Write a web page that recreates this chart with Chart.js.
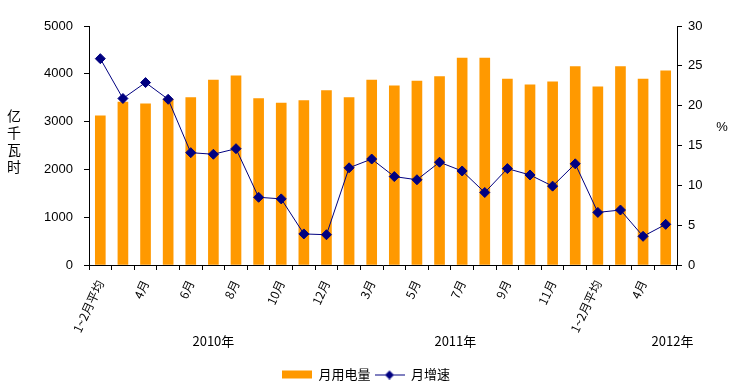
<!DOCTYPE html>
<html>
<head>
<meta charset="utf-8">
<script src="https://cdn.jsdelivr.net/npm/chart.js@4"></script>
<style>
  html, body { margin: 0; padding: 0; background: #fff; }
  #wrap { width: 732px; height: 391px; }
</style>
</head>
<body>
<div id="wrap"><canvas id="chart"></canvas></div>
<script>
// 数据
const categories = [
  '1~2月平均', '3月', '4月', '5月', '6月', '7月', '8月', '9月', '10月', '11月', '12月',
  '1~2月平均', '3月', '4月', '5月', '6月', '7月', '8月', '9月', '10月', '11月', '12月',
  '1~2月平均', '3月', '4月', '5月'
];
const usage = [
  3120, 3410, 3370, 3470, 3500, 3870, 3960, 3480, 3390, 3440, 3650,
  3500, 3870, 3750, 3850, 3940, 4330, 4330, 3890, 3770, 3830, 4150,
  3730, 4150, 3890, 4060
];
const growth = [
  25.9, 20.9, 22.9, 20.8, 14.1, 13.9, 14.6, 8.5, 8.3, 3.9, 3.8,
  12.2, 13.3, 11.1, 10.7, 12.9, 11.8, 9.1, 12.1, 11.3, 9.9,
  12.7, 6.6, 6.9, 3.6, 5.1
];
const years = ['2010年', '2011年', '2012年'];
const leftTicks = [0, 1000, 2000, 3000, 4000, 5000];
const rightTicks = [0, 5, 10, 15, 20, 25, 30];

const barColor = '#FF9900';
const lineColor = '#000080';
const latin = '"Liberation Sans", Arial, "Noto Sans CJK SC", sans-serif';
const cjk = '"Noto Sans CJK SC", "Liberation Sans", sans-serif';

// 图例小图标
function legendSwatch(kind) {
  const c = document.createElement('canvas');
  c.width = 30;
  c.height = 10;
  const g = c.getContext('2d');
  if (kind === 'bar') {
    g.fillStyle = barColor;
    g.fillRect(0, 1, 30, 8);
  } else {
    g.strokeStyle = lineColor;
    g.lineWidth = 1;
    g.beginPath();
    g.moveTo(0, 5.5);
    g.lineTo(30, 5.5);
    g.stroke();
    g.fillStyle = lineColor;
    g.beginPath();
    g.moveTo(15, 1);
    g.lineTo(19.5, 5.5);
    g.lineTo(15, 10);
    g.lineTo(10.5, 5.5);
    g.closePath();
    g.fill();
  }
  return c;
}

// 额外文字：纵轴标题、% 以及年份
const extraText = {
  id: 'extraText',
  afterDraw(chart) {
    const ctx = chart.ctx;
    const x = chart.scales.x;
    ctx.save();
    ctx.fillStyle = '#000';
    ctx.textAlign = 'center';
    ctx.textBaseline = 'middle';

    ctx.font = '14px ' + cjk;
    const title = '亿千瓦时';
    for (let i = 0; i < title.length; i++) {
      ctx.fillText(title[i], 14, 116 + i * 17);
    }
    ctx.font = '13px ' + latin;
    ctx.fillText('%', 722, 127);

    ctx.font = '13px ' + cjk;
    const yearAt = [5, 15.7, 25.3];
    years.forEach((y, i) => {
      ctx.fillText(y, x.getPixelForValue(yearAt[i]), 341);
    });
    ctx.restore();
  }
};

const ctx = document.getElementById('chart');
new Chart(ctx, {
  type: 'bar',
  data: {
    labels: categories,
    datasets: [
      {
        type: 'bar',
        label: '月用电量',
        data: usage,
        backgroundColor: barColor,
        yAxisID: 'y',
        barThickness: 10,
        order: 1
      },
      {
        type: 'line',
        label: '月增速',
        data: growth,
        yAxisID: 'y1',
        borderColor: lineColor,
        borderWidth: 1,
        backgroundColor: lineColor,
        pointStyle: 'rectRot',
        pointRadius: 5,
        pointBorderWidth: 1,
        pointBackgroundColor: lineColor,
        pointBorderColor: lineColor,
        tension: 0,
        order: 0
      }
    ]
  },
  options: {
    responsive: true,
    maintainAspectRatio: false,
    animation: false,
    layout: { padding: { top: 26, left: 0, right: 0, bottom: 0 } },
    plugins: {
      tooltip: { enabled: false },
      legend: {
        position: 'bottom',
        labels: {
          usePointStyle: true,
          pointStyleWidth: 30,
          padding: 4,
          color: '#000',
          font: { size: 13, family: cjk },
          generateLabels(chart) {
            return chart.data.datasets.map((ds, i) => ({
              text: ds.label,
              datasetIndex: i,
              pointStyle: legendSwatch(ds.type),
              fillStyle: 'transparent',
              strokeStyle: 'transparent',
              lineWidth: 0,
              hidden: false
            }));
          }
        }
      }
    },
    scales: {
      x: {
        offset: true,
        border: { color: '#000', width: 1 },
        grid: { offset: true, drawOnChartArea: false, color: '#000', tickLength: 5 },
        ticks: {
          autoSkip: false,
          minRotation: 65,
          maxRotation: 65,
          padding: 8,
          color: '#000',
          font: { size: 12, family: cjk },
          callback(value, index) {
            return index % 2 === 0 ? categories[index] : '';
          }
        },
        afterFit(scale) { scale.height = 99; }
      },
      y: {
        position: 'left',
        min: 0,
        max: 5000,
        border: { color: '#000', width: 1 },
        grid: { drawOnChartArea: false, color: '#000', tickLength: 5 },
        afterBuildTicks(scale) { scale.ticks = leftTicks.map(v => ({ value: v })); },
        ticks: {
          padding: 11,
          color: '#000',
          font: { size: 13, family: latin },
          callback: (v) => String(v)
        },
        afterFit(scale) { scale.width = 89; }
      },
      y1: {
        position: 'right',
        min: 0,
        max: 30,
        border: { color: '#000', width: 1 },
        grid: { drawOnChartArea: false, color: '#000', tickLength: 5 },
        afterBuildTicks(scale) { scale.ticks = rightTicks.map(v => ({ value: v })); },
        ticks: {
          padding: 6,
          color: '#000',
          font: { size: 13, family: latin },
          callback: (v) => String(v)
        },
        afterFit(scale) { scale.width = 55; }
      }
    }
  },
  plugins: [extraText]
});
</script>
</body>
</html>
